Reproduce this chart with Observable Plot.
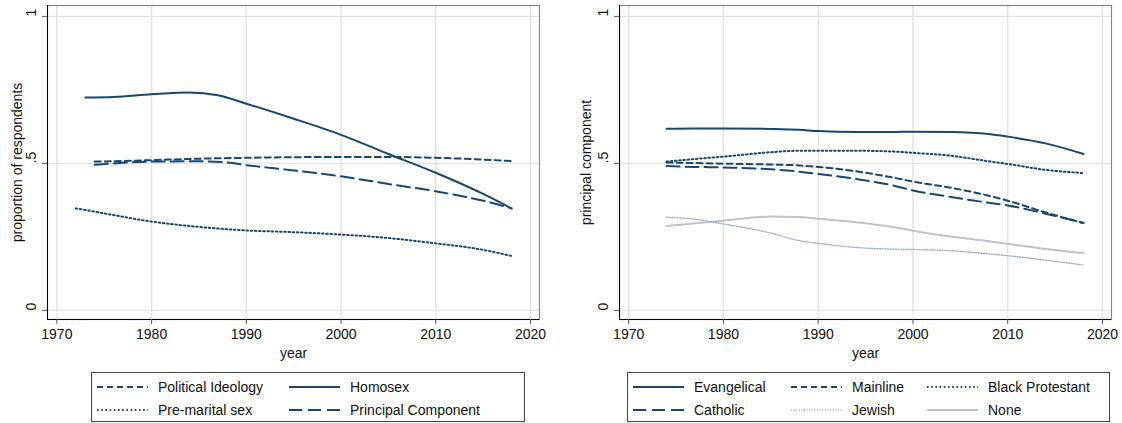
<!DOCTYPE html>
<html><head><meta charset="utf-8">
<script src="https://cdn.jsdelivr.net/npm/d3@7"></script>
<script src="https://cdn.jsdelivr.net/npm/@observablehq/plot@0.6"></script>
<style>
body{margin:0;background:#fff;font-family:"Liberation Sans",Arial,sans-serif;}
#wrap{position:relative;width:1122px;height:423px;overflow:hidden;background:#fff;}
.panel{position:absolute;top:0;}
.legend{position:absolute;border:1px solid #444;box-sizing:border-box;font-size:14px;color:#111;background:#fff;}
.item{position:absolute;display:flex;align-items:center;height:20px;white-space:nowrap;}
.item svg{margin-right:10px;display:block;}
</style></head><body><div id="wrap"></div>
<script>
// ---- tick labels ----
const xTicks = [1970, 1980, 1990, 2000, 2010, 2020];
const yTicks = [0, 0.5, 1];
const yTickLabels = ["0", ".5", "1"];

// ---- left panel data ----
const homosexYears = [1973, 1976, 1980, 1984, 1987, 1990, 1995, 2000, 2005, 2010, 2015, 2018];
const homosex      = [0.724, 0.726, 0.735, 0.741, 0.732, 0.703, 0.652, 0.597, 0.532, 0.468, 0.396, 0.347];
const politicalYears = [1974, 1977, 1980, 1985, 1990, 1995, 2000, 2005, 2010, 2015, 2018];
const political      = [0.506, 0.508, 0.511, 0.516, 0.519, 0.521, 0.522, 0.522, 0.519, 0.513, 0.508];
const pcYears = [1974, 1977, 1980, 1985, 1988, 1990, 1995, 2000, 2005, 2010, 2015, 2018];
const pcLeft  = [0.495, 0.502, 0.506, 0.507, 0.503, 0.494, 0.476, 0.456, 0.430, 0.405, 0.373, 0.347];
const premaritalYears = [1972, 1975, 1980, 1985, 1990, 1995, 2000, 2005, 2010, 2015, 2018];
const premarital      = [0.347, 0.330, 0.302, 0.284, 0.272, 0.266, 0.258, 0.246, 0.228, 0.206, 0.185];

// ---- right panel data ----
const relYears     = [1974, 1977, 1980, 1985, 1988, 1990, 1994, 1998, 2000, 2004, 2008, 2010, 2014, 2018];
const evangelical  = [0.618, 0.619, 0.619, 0.617, 0.614, 0.610, 0.607, 0.607, 0.608, 0.607, 0.600, 0.591, 0.568, 0.532];
const mainline     = [0.503, 0.501, 0.499, 0.496, 0.493, 0.488, 0.473, 0.451, 0.438, 0.417, 0.390, 0.373, 0.333, 0.297];
const blackProt    = [0.506, 0.515, 0.523, 0.538, 0.543, 0.543, 0.543, 0.540, 0.536, 0.526, 0.507, 0.498, 0.478, 0.467];
const catholic     = [0.491, 0.488, 0.486, 0.480, 0.472, 0.464, 0.447, 0.424, 0.408, 0.386, 0.366, 0.357, 0.329, 0.297];
const jewish       = [0.317, 0.310, 0.294, 0.263, 0.237, 0.228, 0.214, 0.208, 0.207, 0.203, 0.192, 0.186, 0.171, 0.154];
const none         = [0.287, 0.296, 0.305, 0.319, 0.318, 0.312, 0.300, 0.283, 0.271, 0.251, 0.235, 0.226, 0.209, 0.195];

const NAVY = "#1a476f";
const STYLES = {
  solid: {dash: null, color: NAVY, width: 2},
  shortdash: {dash: "6,4", color: NAVY, width: 2},
  longdash: {dash: "13,6", color: NAVY, width: 2},
  dot: {dash: "1.6,2.6", color: NAVY, width: 2},
  finedot: {dash: "1,1.6", color: "#9db0c4", width: 1.4},
  gray: {dash: null, color: "#c3c3c3", width: 2}
};

const leftSeries = [
  {label: "Political Ideology", style: "shortdash", years: politicalYears, values: political},
  {label: "Homosex", style: "solid", years: homosexYears, values: homosex},
  {label: "Pre-marital sex", style: "dot", years: premaritalYears, values: premarital},
  {label: "Principal Component", style: "longdash", years: pcYears, values: pcLeft}
];
const rightSeries = [
  {label: "Evangelical", style: "solid", years: relYears, values: evangelical},
  {label: "Mainline", style: "shortdash", years: relYears, values: mainline},
  {label: "Black Protestant", style: "dot", years: relYears, values: blackProt},
  {label: "Catholic", style: "longdash", years: relYears, values: catholic},
  {label: "Jewish", style: "finedot", years: relYears, values: jewish},
  {label: "None", style: "gray", years: relYears, values: none}
];

const yDomain = [-0.031, 1.037];

function panel({series, ylabel, marginLeft, marginRight, labelOffset, xDomain, drawOrder}) {
  const lineMarks = drawOrder.map(i => {
    const s = series[i], st = STYLES[s.style];
    const data = s.years.map((yr, j) => ({year: yr, value: s.values[j]}));
    return Plot.line(data, {x: "year", y: "value", stroke: st.color, strokeWidth: st.width,
      strokeDasharray: st.dash ?? undefined, curve: "monotone-x"});
  });
  return Plot.plot({
    width: 561, height: 362,
    marginLeft, marginRight, marginTop: 5, marginBottom: 43,
    x: {domain: xDomain},
    y: {domain: yDomain},
    style: {fontFamily: '"Liberation Sans", Arial, sans-serif', fontSize: "14px", color: "#111", background: "#fff", overflow: "visible"},
    marks: [
      Plot.gridX(xTicks, {stroke: "#e2e2e2", strokeOpacity: 1, strokeWidth: 1.4}),
      Plot.gridY(yTicks, {stroke: "#e2e2e2", strokeOpacity: 1, strokeWidth: 1.4}),
      Plot.frame({stroke: "#888", strokeWidth: 1.2}),
      Plot.ruleX([xDomain[0]], {stroke: "#000", strokeWidth: 1}),
      Plot.ruleY([yDomain[0]], {stroke: "#000", strokeWidth: 1}),
      Plot.axisX(xTicks, {tickSize: 5, tickPadding: 5, stroke: "#555", tickFormat: d => String(d),
        label: "year", labelAnchor: "center", labelArrow: "none", labelOffset: 38, fontSize: 14}),
      Plot.axisY(yTicks, {tickSize: 5, stroke: "#555", tickFormat: () => "",
        label: ylabel, labelAnchor: "center", labelArrow: "none", labelOffset, fontSize: 14}),
      Plot.text(yTicks, {y: d => d, frameAnchor: "left", text: (d, i) => yTickLabels[i], rotate: -90,
        lineAnchor: "bottom", dx: -12, fontSize: 14, fill: "#111"}),
      ...lineMarks
    ]
  });
}

function legend(series, box, cols) {
  const div = document.createElement("div");
  div.className = "legend";
  Object.assign(div.style, {left: box.left + "px", top: box.top + "px", width: box.width + "px", height: box.height + "px"});
  series.forEach((s, i) => {
    const st = STYLES[s.style];
    const item = document.createElement("div");
    item.className = "item";
    const c = i % cols.length, r = Math.floor(i / cols.length);
    item.style.left = cols[c] + "px";
    item.style.top = (box.rows[r] - 10) + "px";
    item.innerHTML = `<svg width="51" height="6"><line x1="0" x2="51" y1="3" y2="3" stroke="${st.color}" stroke-width="${st.width}" ${st.dash ? `stroke-dasharray="${st.dash}"` : ""}/></svg><span>${s.label}</span>`;
    div.appendChild(item);
  });
  return div;
}

const wrap = document.getElementById("wrap");
const left = panel({series: leftSeries, ylabel: "proportion of respondents", marginLeft: 47, marginRight: 22,
  labelOffset: 35, xDomain: [1969.01, 2020.95], drawOrder: [2, 3, 0, 1]});
left.classList.add("panel"); left.style.left = "0px";
wrap.appendChild(left);

const right = panel({series: rightSeries, ylabel: "principal component", marginLeft: 58, marginRight: 11,
  labelOffset: 38, xDomain: [1969.03, 2020.95], drawOrder: [5, 4, 3, 1, 2, 0]});
right.classList.add("panel"); right.style.left = "561px";
wrap.appendChild(right);

wrap.appendChild(legend(leftSeries, {left: 91, top: 372, width: 434, height: 50, rows: [14, 37]}, [5, 197]));
wrap.appendChild(legend(rightSeries, {left: 627, top: 372, width: 483, height: 50, rows: [14, 37]}, [5, 163, 299]));
</script>
</body></html>
